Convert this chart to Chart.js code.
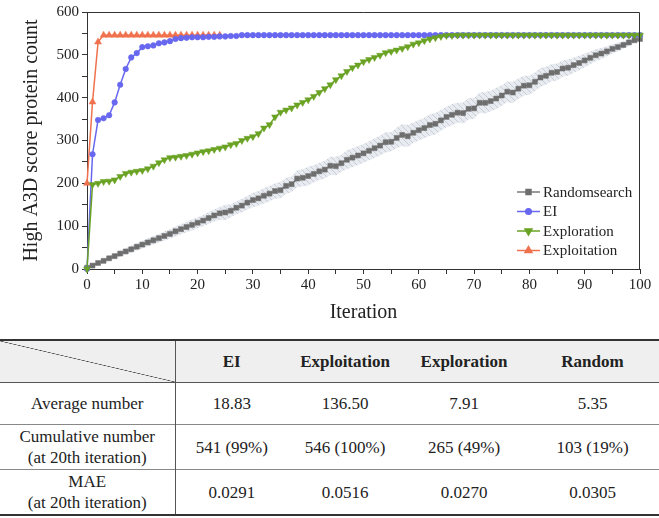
<!DOCTYPE html>
<html>
<head>
<meta charset="utf-8">
<script src="https://cdn.jsdelivr.net/npm/chart.js@4.4.0/dist/chart.umd.min.js"></script>
<style>
html,body{margin:0;padding:0;background:#fff;}
body{width:659px;height:518px;overflow:hidden;font-family:'Liberation Serif',serif;color:#222;position:relative;}
#wrap{position:absolute;left:0;top:0;width:659px;height:334px;}
table{position:absolute;top:339px;left:0;width:659px;border-collapse:collapse;font-size:17px;table-layout:fixed;font-family:'Liberation Serif',serif;}
td,th{text-align:center;padding:0;line-height:21px;}
thead th{background:#efefef;height:41px;font-weight:bold;}
thead tr{border-top:2px solid #333;border-bottom:1px solid #555;}
tbody tr{border-bottom:1px solid #888;}
tbody tr:last-child{border-bottom:2px solid #333;}
tbody tr.r1 td{height:41px;}
tbody tr.r2 td, tbody tr.r3 td{height:44px;}
.first{border-right:1px solid #555;}
th.diag{background:#efefef linear-gradient(to top right, transparent calc(50% - 0.6px), #444 50%, transparent calc(50% + 0.6px));}
</style>
</head>
<body>
<div id="wrap"><canvas id="c" width="659" height="334"></canvas></div>
<table id="tbl">
<colgroup><col style="width:175px"><col style="width:113px"><col style="width:114px"><col style="width:124px"><col style="width:133px"></colgroup>
<thead><tr id="hdr"></tr></thead>
<tbody id="tb"></tbody>
</table>
<script>
// ---------------- data ----------------
const iterations = [0,1,2,3,4,5,6,7,8,9,10,11,12,13,14,15,16,17,18,19,20,21,22,23,24,25,26,27,28,29,30,31,32,33,34,35,36,37,38,39,40,41,42,43,44,45,46,47,48,49,50,51,52,53,54,55,56,57,58,59,60,61,62,63,64,65,66,67,68,69,70,71,72,73,74,75,76,77,78,79,80,81,82,83,84,85,86,87,88,89,90,91,92,93,94,95,96,97,98,99,100];

const randomMean = [3,8,14,19,25,30,36,41,46,52,57,62,67,72,77,82,88,93,98,103,108,113,119,125,130,132,136,143,148,155,161,165,171,176,182,184,194,198,211,213,217,222,228,232,241,240,247,255,260,265,270,276,282,288,296,297,306,313,310,318,324,329,336,339,347,355,360,365,364,374,375,388,388,392,398,405,414,412,421,428,429,437,447,451,458,460,468,470,476,481,487,493,499,503,508,514,518,523,529,534,537];

const randomSpread = [2,3,4,5,6,6,7,7,8,8,9,9,10,10,11,11,12,12,12,13,13,13,14,14,15,18,15,15,16,16,17,17,18,18,18,19,19,18,20,20,22,20,20,21,21,22,20,22,22,22,22,22,23,23,24,22,24,26,26,24,24,24,25,25,24,24,25,23,25,25,24,24,25,24,25,24,24,25,24,23,22,22,22,21,20,20,19,19,18,17,16,15,14,13,12,11,10,9,8,6,4];

const eiValues = [0,268,348,352,359,389,430,467,494,504,518,520,522,527,529,532,537,539,540,541,541,541,542,542,543,543,544,544,546,546,546,546,546,546,546,546,546,546,546,546,546,546,546,546,546,546,546,546,546,546,546,546,546,546,546,546,546,546,546,546,546,546,546,546,546,546,546,546,546,546,546,546,546,546,546,546,546,546,546,546,546,546,546,546,546,546,546,546,546,546,546,546,546,546,546,546,546,546,546,546,546];

const explorationValues = [0,197,200,204,205,208,216,223,226,228,230,234,240,248,255,260,261,263,265,268,271,274,276,279,282,285,290,293,300,305,309,316,329,337,355,366,371,376,383,389,395,403,412,421,430,442,451,461,470,476,484,489,494,499,505,508,511,515,519,525,528,533,537,540,543,545,545,546,546,546,546,546,546,546,546,546,546,546,546,546,546,546,546,546,546,546,546,546,546,546,546,546,546,546,546,546,546,546,546,546,546];

const exploitationValues = [200,390,530,546,546,546,546,546,546,546,546,546,546,546,546,546,546,546,546,546,546,546,546,546,546];

const seriesNames = ['Randomsearch','EI','Exploration','Exploitation'];
const xTickLabels = [0,10,20,30,40,50,60,70,80,90,100];
const yTickLabels = [0,100,200,300,400,500,600];

// table
const tableHeaders = ['EI','Exploitation','Exploration','Random'];
const rowLabels = ['Average number','Cumulative number<br>(at 20th iteration)','MAE<br>(at 20th iteration)'];
const avgNumber = ['18.83','136.50','7.91','5.35'];
const cumulativeNumber = ['541 (99%)','546 (100%)','265 (49%)','103 (19%)'];
const maeValues = ['0.0291','0.0516','0.0270','0.0305'];

// ---------------- table build ----------------
(function(){
  const hdr = document.getElementById('hdr');
  let h = '<th class="diag first"></th>';
  tableHeaders.forEach(t => h += '<th>' + t + '</th>');
  hdr.innerHTML = h;
  const rows = [avgNumber, cumulativeNumber, maeValues];
  let b = '';
  rows.forEach((r, i) => {
    b += '<tr class="r' + (i+1) + '"><td class="first">' + rowLabels[i] + '</td>';
    r.forEach(v => b += '<td>' + v + '</td>');
    b += '</tr>';
  });
  document.getElementById('tb').innerHTML = b;
})();

// ---------------- chart ----------------
const FONT = "'Liberation Serif', serif";
const toPts = arr => arr.map((v, i) => ({x: iterations[i], y: v}));
const upper = randomMean.map((v, i) => v + randomSpread[i]);
const lower = randomMean.map((v, i) => v - randomSpread[i]);

function makePattern() {
  const c = document.createElement('canvas');
  c.width = 6; c.height = 6;
  const g = c.getContext('2d');
  g.fillStyle = '#e8ebf0';
  g.fillRect(0, 0, 6, 6);
  g.strokeStyle = '#c6cdd7';
  g.lineWidth = 1;
  g.beginPath(); g.moveTo(0, 0); g.lineTo(6, 6); g.stroke();
  return g.createPattern(c, 'repeat');
}

const COLORS = {
  random: '#6e6e6e',
  ei: '#6767ef',
  exploration: '#6aa324',
  exploitation: '#f0714d'
};

const ctx = document.getElementById('c').getContext('2d');

const boxPlugin = {
  id: 'box',
  afterDraw(chart) {
    const {ctx, chartArea: a} = chart;
    ctx.save();
    ctx.strokeStyle = '#333';
    ctx.lineWidth = 1;
    ctx.beginPath();
    ctx.moveTo(a.left, a.top + 0.5);
    ctx.lineTo(a.right - 0.5, a.top + 0.5);
    ctx.lineTo(a.right - 0.5, a.bottom);
    ctx.stroke();
    ctx.restore();
  }
};

const legendPlugin = {
  id: 'customLegend',
  afterDraw(chart) {
    const {ctx, chartArea: a} = chart;
    const items = chart.data.datasets.filter(d => seriesNames.includes(d.label));
    items.sort((p, q) => seriesNames.indexOf(p.label) - seriesNames.indexOf(q.label));
    const x0 = a.right - 123, x1 = a.right - 100;
    let y = a.bottom - 77;
    ctx.save();
    ctx.font = '15px ' + FONT;
    ctx.textBaseline = 'middle';
    ctx.fillStyle = '#222';
    items.forEach(d => {
      ctx.strokeStyle = d.borderColor;
      ctx.lineWidth = 1.5;
      ctx.beginPath(); ctx.moveTo(x0, y); ctx.lineTo(x1, y); ctx.stroke();
      ctx.fillStyle = d.pointBackgroundColor;
      ctx.strokeStyle = d.pointBackgroundColor;
      Chart.helpers.drawPoint(ctx, {pointStyle: d.pointStyle, radius: d.pointRadius, rotation: d.pointRotation || 0, borderWidth: 1}, (x0 + x1) / 2, y);
      ctx.fillStyle = '#222';
      ctx.fillText(d.label, x1 + 3, y + 1);
      y += 19.5;
    });
    ctx.restore();
  }
};

new Chart(ctx, {
  type: 'line',
  data: {
    datasets: [
      {label: 'Randomsearch', data: toPts(randomMean), borderColor: '#7a7a7a', pointBackgroundColor: COLORS.random, pointBorderColor: COLORS.random, pointStyle: 'rect', pointRadius: 3.5, pointBorderWidth: 0.5, borderWidth: 1.5, order: 5},
      {label: 'EI', data: toPts(eiValues), borderColor: COLORS.ei, pointBackgroundColor: COLORS.ei, pointBorderColor: COLORS.ei, pointStyle: 'circle', pointRadius: 2.8, pointBorderWidth: 0.5, borderWidth: 1.5, order: 2},
      {label: 'Exploration', data: toPts(explorationValues), borderColor: COLORS.exploration, pointBackgroundColor: COLORS.exploration, pointBorderColor: COLORS.exploration, pointStyle: 'triangle', pointRotation: 180, pointRadius: 4, pointBorderWidth: 0.5, borderWidth: 1.5, order: 1},
      {label: 'Exploitation', data: toPts(exploitationValues), borderColor: COLORS.exploitation, pointBackgroundColor: COLORS.exploitation, pointBorderColor: COLORS.exploitation, pointStyle: 'triangle', pointRadius: 4, pointBorderWidth: 0.5, borderWidth: 1.5, order: 3},
      {label: 'band-upper', data: toPts(upper), pointRadius: 0, borderWidth: 0, borderColor: 'rgba(0,0,0,0)', fill: false, order: 7},
      {label: 'band-lower', data: toPts(lower), pointRadius: 0, borderWidth: 0, borderColor: 'rgba(0,0,0,0)', fill: '-1', backgroundColor: makePattern(), order: 6}
    ]
  },
  options: {
    responsive: false,
    animation: false,
    devicePixelRatio: 1,
    clip: false,
    layout: {padding: {left: 0, right: 19, top: 8, bottom: 0}},
    elements: {line: {tension: 0}},
    plugins: {legend: {display: false}, tooltip: {enabled: false}},
    scales: {
      x: {
        type: 'linear', min: 0, max: 100,
        afterFit: s => { s.height = 65; },
        ticks: {stepSize: 5, autoSkip: false, maxRotation: 0, padding: 2, color: '#222', font: {family: FONT, size: 15},
          callback: v => xTickLabels.includes(v) ? String(v) : ''},
        grid: {display: true, drawOnChartArea: false, drawTicks: true, tickLength: 5, color: '#333'},
        border: {display: true, color: '#333', width: 1},
        title: {display: true, text: 'Iteration', color: '#222', font: {family: FONT, size: 20}, padding: {top: 0, bottom: 9}}
      },
      y: {
        type: 'linear', min: 0, max: 600,
        afterFit: s => { s.width = 87; },
        ticks: {stepSize: 50, autoSkip: false, padding: 3, color: '#222', font: {family: FONT, size: 15},
          callback: v => yTickLabels.includes(v) ? String(v) : ''},
        grid: {display: true, drawOnChartArea: false, drawTicks: true, tickLength: 5, color: '#333'},
        border: {display: true, color: '#333', width: 1},
        title: {display: true, text: 'High A3D score protein count', color: '#222', font: {family: FONT, size: 20}, padding: {top: 20, bottom: 0}}
      }
    }
  },
  plugins: [boxPlugin, legendPlugin]
});
</script>
</body>
</html>
